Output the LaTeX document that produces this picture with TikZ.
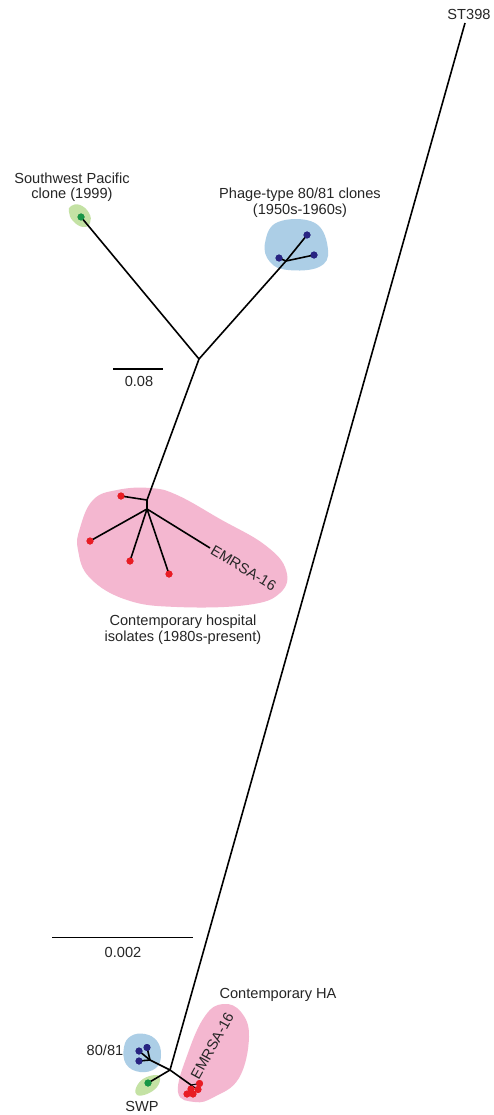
\documentclass[tikz,border=0pt]{standalone}
\usepackage{fontspec}
\setmainfont{Liberation Sans}
\begin{document}
\begin{tikzpicture}[x=1pt,y=-1pt,
  branch/.style={line width=1.6pt,black},
  lbl/.style={font=\fontsize{14.6}{16.5}\selectfont,text=black!85,inner sep=0pt,align=center},
  dot/.style={circle,inner sep=0pt,minimum size=7pt},
  reddot/.style={dot,fill=redc},
  bluedot/.style={dot,fill=bluec},
  greendot/.style={dot,fill=greenc},
]
\definecolor{pinkb}{RGB}{244,183,208}
\definecolor{blueb}{RGB}{172,206,230}
\definecolor{greenb}{RGB}{196,226,164}
\definecolor{redc}{RGB}{232,28,36}
\definecolor{bluec}{RGB}{40,36,130}
\definecolor{greenc}{RGB}{24,150,70}
\useasboundingbox (0,0) rectangle (493,1115);
\fill[white] (0,0) rectangle (493,1115);

% ---------- bubbles (top) ----------
\fill[pinkb] plot[smooth cycle,tension=0.7] coordinates {(80,528) (93,500) (117,490) (150,488) (177,495) (220,519) (265,545) (286,570) (280,593) (247,605) (177,607) (127,600) (90,578) (78,550)};
\fill[blueb] plot[smooth cycle,tension=0.7] coordinates {(265,243) (278,222) (315,223) (328,250) (319,267) (288,270) (270,262)};
\fill[greenb] plot[smooth cycle,tension=0.8] coordinates {(71,206) (80,205) (89,213) (90,223) (83,227) (73,221) (69,212)};

% ---------- bubbles (bottom) ----------
\fill[pinkb] plot[smooth cycle,tension=0.7] coordinates {(223,1004) (241,1012) (249,1037) (239,1078) (214,1097) (195,1102) (178,1092) (188,1053) (205,1016)};
\fill[blueb] plot[smooth cycle,tension=0.7] coordinates {(124,1047) (131,1036) (145,1034) (157,1041) (161,1055) (156,1068) (140,1072) (126,1064)};
\fill[greenb] plot[smooth cycle,tension=0.7] coordinates {(136,1088) (143,1079) (155,1075) (160,1078) (157,1087) (147,1094) (137,1095)};

% ---------- coordinates: top tree ----------
\coordinate (C) at (199,359);
\coordinate (Ph1) at (286,261);
\coordinate (H1) at (147,500);
\coordinate (H2) at (147,509);
\coordinate (Em1) at (210,548);
% ---------- coordinates: bottom tree ----------
\coordinate (ST) at (465,23);
\coordinate (M) at (170,1070);
\coordinate (B80) at (150,1060);
\coordinate (Eb) at (191,1085);

% dots top
\node[greendot] (sw) at (81,217) {};
\node[bluedot] (p1) at (279,258) {};
\node[bluedot] (p2) at (307,235) {};
\node[bluedot] (p3) at (314,255) {};
\node[reddot] (h0) at (121,496) {};
\node[reddot] (h1) at (90,541) {};
\node[reddot] (h2) at (130,561) {};
\node[reddot] (h3) at (169,574) {};
% dots bottom
\node[bluedot] (b1) at (139,1051) {};
\node[bluedot] (b2) at (147,1047.5) {};
\node[bluedot] (b3) at (139,1061) {};
\node[greendot] (g1) at (148,1083) {};
\node[reddot] (r1) at (187,1094) {};
\node[reddot] (r2) at (193,1094) {};
\node[reddot] (r3) at (198,1089.5) {};
\node[reddot] (r4) at (199.5,1083.5) {};
\node[reddot] (r5) at (191,1089) {};

% ---------- branches top ----------
\draw[branch] (C) -- (sw.center);
\draw[branch] (C) -- (Ph1);
\draw[branch] (Ph1) -- (p1.center);
\draw[branch] (Ph1) -- (p2.center);
\draw[branch] (Ph1) -- (p3.center);
\draw[branch] (C) -- (H1) -- (H2);
\draw[branch] (H1) -- (h0.center);
\draw[branch] (H2) -- (h1.center);
\draw[branch] (H2) -- (h2.center);
\draw[branch] (H2) -- (h3.center);
\draw[branch] (H2) -- (Em1);

% ---------- branches bottom ----------
\draw[branch] (ST) -- (M);
\draw[branch] (M) -- (B80);
\draw[branch] (B80) -- (b1.center);
\draw[branch] (B80) -- (b2.center);
\draw[branch] (B80) -- (b3.center);
\draw[branch] (M) -- (g1.center);
\draw[branch] (M) -- (Eb);
\foreach \r in {r1,r2,r3,r4,r5} \draw[line width=1pt] (Eb) -- (\r.center);

% redraw dots on top
\foreach \n/\s in {sw/greendot,p1/bluedot,p2/bluedot,p3/bluedot,h0/reddot,h1/reddot,h2/reddot,h3/reddot,b1/bluedot,b2/bluedot,b3/bluedot,g1/greendot,r1/reddot,r2/reddot,r3/reddot,r4/reddot,r5/reddot}
  \node[\s] at (\n.center) {};

% ---------- scale bars ----------
\coordinate (s1a) at (113,369);
\coordinate (s1b) at (163,369);
\draw[branch] (s1a) -- (s1b);
\node[lbl] (s1l) at (139,381) {0.08};
\coordinate (s2a) at (52,937.5);
\coordinate (s2b) at (193,937.5);
\draw[branch] (s2a) -- (s2b);
\node[lbl] (s2l) at (123,952) {0.002};

% ---------- labels ----------
\node[lbl] (stl) at (469,14) {ST398};
\node[lbl] (swl) at (72,187) {Southwest Pacific\\[-1pt]clone (1999)};
\node[lbl] (phl) at (300,202.5) {Phage-type 80/81 clones\\[-1pt](1950s-1960s)};
\node[lbl,anchor=west,rotate=-31] (eml) at (Em1) {\,EMRSA-16};
\node[lbl] (hol) at (183,629.5) {Contemporary hospital\\[-1pt]isolates (1980s-present)};
\node[lbl] (hal) at (278,995) {Contemporary HA};
\node[lbl,anchor=west,rotate=61] (emb) at (194.5,1078) {EMRSA-16};
\node[lbl] (l80) at (105,1050) {80/81};
\node[lbl] (swp) at (142,1106.5) {SWP};
\end{tikzpicture}
\end{document}
